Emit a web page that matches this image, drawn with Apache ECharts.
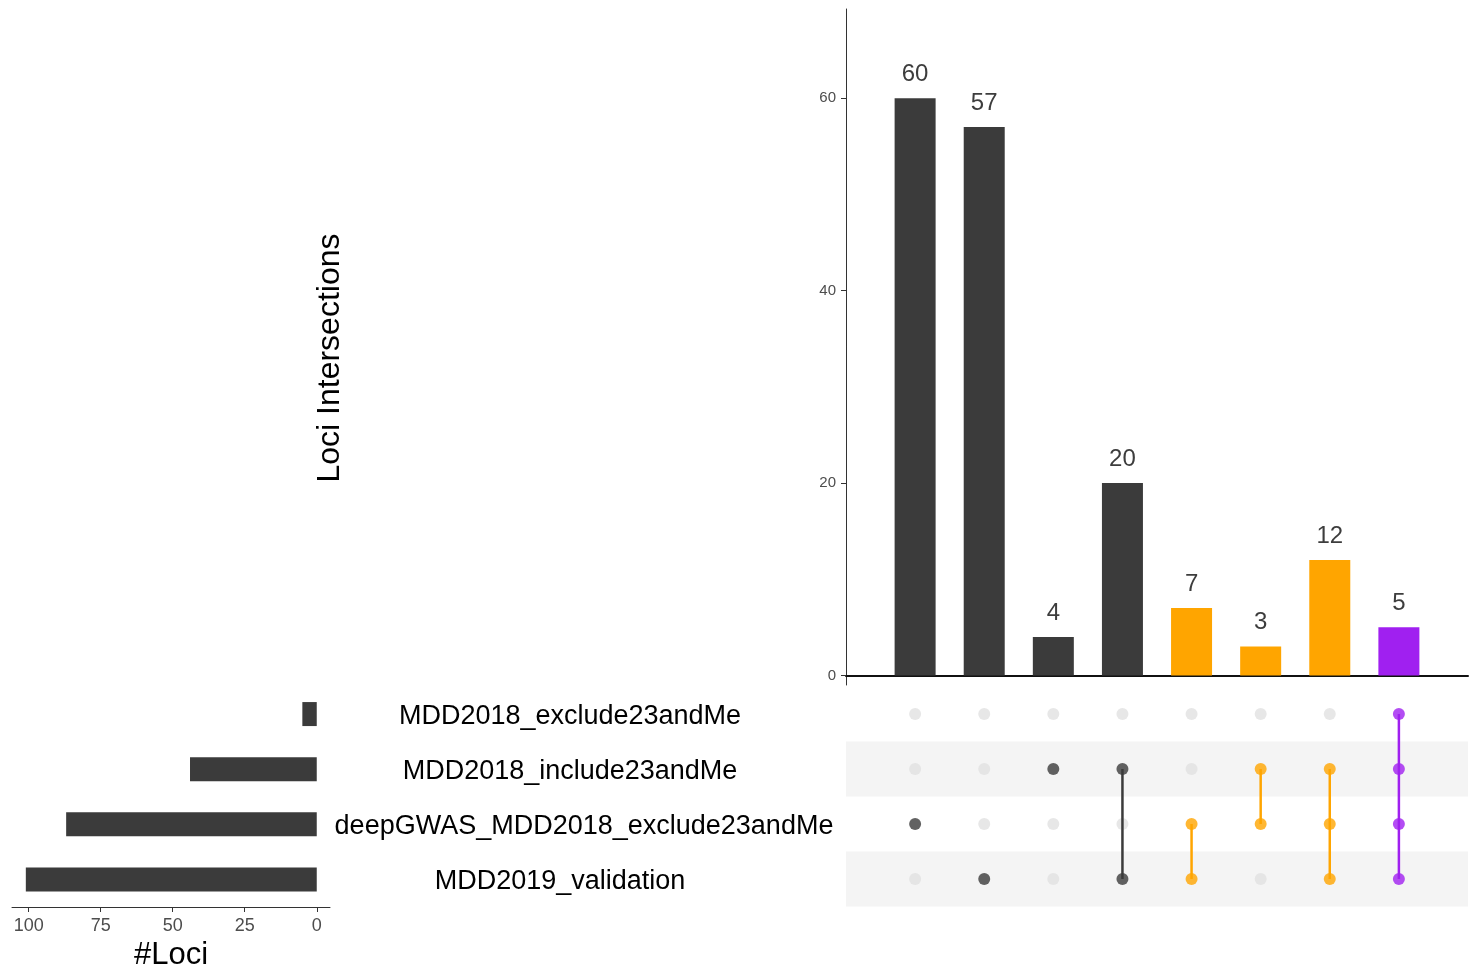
<!DOCTYPE html>
<html>
<head>
<meta charset="utf-8">
<script src="https://cdn.jsdelivr.net/npm/echarts@6/dist/echarts.min.js"></script>
<style>
html,body{margin:0;padding:0;background:#fff;}
#chart{width:1473px;height:971px;}
</style>
</head>
<body>
<div id="chart"></div>
<script>
// ---- data ----
const setNames = ['MDD2018_exclude23andMe', 'MDD2018_include23andMe', 'deepGWAS_MDD2018_exclude23andMe', 'MDD2019_validation'];
const setSizes = [5, 44, 87, 101];
const intersectionCounts = [60, 57, 4, 20, 7, 3, 12, 5];
// member set indices (into setNames) for each intersection column
const intersectionMembers = [[2], [3], [1], [1, 3], [2, 3], [1, 2], [1, 2, 3], [0, 1, 2, 3]];
const intersectionGroup = ['base', 'base', 'base', 'base', 'queryA', 'queryA', 'queryA', 'queryB'];
const intersectionTicks = [0, 20, 40, 60];
const lociTicks = [0, 25, 50, 75, 100];

// ---- styles ----
const FONT = 'Liberation Sans, Arial, Helvetica, sans-serif';
const groupColor = { base: '#3b3b3b', queryA: '#FFA500', queryB: '#A020F0' };
const emptyDot = '#e1e1e1';
// per-label rich style keys (slight horizontal offsets as in the original layout)
const labelStyleKey = ['s0', 's0', 'sR', 'sL'];

const cols = intersectionCounts.map((_, i) => i + 1);

const barData = intersectionCounts.map((v, i) => ({
  value: [cols[i], v],
  itemStyle: { color: groupColor[intersectionGroup[i]] }
}));

const emptyDots = [];
const fullDots = [];
const links = [];
cols.forEach((c, i) => {
  const mem = intersectionMembers[i];
  setNames.forEach((_, s) => {
    if (mem.indexOf(s) >= 0) {
      fullDots.push({ value: [c, s], itemStyle: { color: groupColor[intersectionGroup[i]] } });
    } else {
      emptyDots.push([c, s]);
    }
  });
  if (mem.length > 1) {
    links.push([c, Math.min(...mem), Math.max(...mem), i]);
  }
});

const chart = echarts.init(document.getElementById('chart'), null, { renderer: 'canvas' });

const richBase = { fontSize: 27, color: '#000', fontFamily: FONT };

const option = {
  animation: false,
  backgroundColor: '#ffffff',
  textStyle: { fontFamily: FONT },
  grid: [
    { left: 846, top: 9, width: 622, height: 676, outerBoundsMode: 'none', containLabel: false },
    { left: 846, top: 686.5, width: 622, height: 220, outerBoundsMode: 'none', containLabel: false },
    { left: 12, top: 686.5, width: 318, height: 220.5, outerBoundsMode: 'none', containLabel: false }
  ],
  xAxis: [
    {
      gridIndex: 0, type: 'value', min: 0, max: 9,
      axisLine: { show: true, onZero: true, lineStyle: { color: '#111', width: 2 } },
      axisTick: { show: false }, axisLabel: { show: false }, splitLine: { show: false }
    },
    {
      gridIndex: 1, type: 'value', min: 0, max: 9,
      axisLine: { show: false }, axisTick: { show: false }, axisLabel: { show: false }, splitLine: { show: false }
    },
    {
      gridIndex: 2, type: 'value', min: -4.6, max: 105.8, inverse: true,
      name: '#Loci', nameLocation: 'middle', nameGap: 33,
      nameTextStyle: { fontSize: 31, color: '#000', fontFamily: FONT },
      axisLine: { show: true, onZero: false, lineStyle: { color: '#333', width: 1 } },
      axisTick: { show: true, length: 5, customValues: lociTicks, lineStyle: { color: '#333' } },
      axisLabel: { show: true, customValues: lociTicks, margin: 10, fontSize: 18, color: '#4d4d4d', fontFamily: FONT },
      splitLine: { show: false }
    }
  ],
  yAxis: [
    {
      gridIndex: 0, type: 'value', min: -1, max: 69.27,
      axisLine: { show: true, lineStyle: { color: '#333', width: 1 } },
      axisTick: { show: true, length: 5, customValues: intersectionTicks, lineStyle: { color: '#333' } },
      axisLabel: { show: true, customValues: intersectionTicks, margin: 10, fontSize: 15, color: '#4d4d4d', fontFamily: FONT },
      splitLine: { show: false }
    },
    {
      gridIndex: 1, type: 'category', data: setNames, inverse: true,
      axisLine: { show: false }, axisTick: { show: false },
      axisLabel: {
        show: true, align: 'center', margin: 276,
        formatter: function (val, idx) { return '{' + labelStyleKey[idx] + '|' + val + '}'; },
        rich: {
          s0: Object.assign({ padding: [5, 0, 0, 0] }, richBase),
          sR: Object.assign({ padding: [5, 0, 0, 28] }, richBase),
          sL: Object.assign({ padding: [5, 20, 0, 0] }, richBase)
        }
      },
      splitLine: { show: false },
      splitArea: { show: true, areaStyle: { color: ['rgba(255,255,255,0)', '#f4f4f4'] } }
    },
    {
      gridIndex: 2, type: 'category', data: setNames, inverse: true,
      axisLine: { show: false }, axisTick: { show: false }, axisLabel: { show: false },
      splitLine: { show: false }
    }
  ],
  graphic: [
    {
      type: 'text', x: 330, y: 358, rotation: Math.PI / 2,
      style: { text: 'Loci Intersections', font: '32px ' + FONT, fill: '#000', align: 'center', verticalAlign: 'middle' }
    }
  ],
  series: [
    {
      type: 'bar', xAxisIndex: 0, yAxisIndex: 0, barWidth: 41,
      data: barData,
      label: { show: true, position: 'top', distance: 12, fontSize: 24, color: '#3d3d3d', fontFamily: FONT },
      z: 2
    },
    {
      type: 'scatter', xAxisIndex: 1, yAxisIndex: 1, symbolSize: 12,
      itemStyle: { color: emptyDot },
      data: emptyDots, z: 2
    },
    {
      type: 'custom', xAxisIndex: 1, yAxisIndex: 1,
      data: links,
      renderItem: function (params, api) {
        const p1 = api.coord([api.value(0), api.value(1)]);
        const p2 = api.coord([api.value(0), api.value(2)]);
        const idx = api.value(3);
        return {
          type: 'line',
          shape: { x1: p1[0], y1: p1[1], x2: p2[0], y2: p2[1] },
          style: { stroke: groupColor[intersectionGroup[idx]], lineWidth: 2.5 }
        };
      },
      z: 3
    },
    {
      type: 'scatter', xAxisIndex: 1, yAxisIndex: 1, symbolSize: 12,
      data: fullDots, z: 4
    },
    {
      type: 'bar', xAxisIndex: 2, yAxisIndex: 2, barWidth: 24,
      itemStyle: { color: '#3b3b3b' },
      data: setSizes
    }
  ]
};

chart.setOption(option);
</script>
</body>
</html>
